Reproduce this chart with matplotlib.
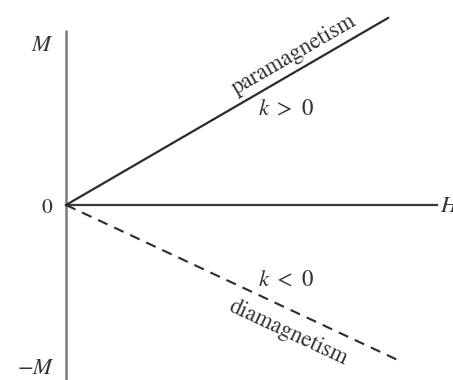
import numpy as np
import matplotlib.pyplot as plt

plt.rcParams['font.family'] = 'STIXGeneral'
plt.rcParams['mathtext.fontset'] = 'stix'

# axis extents (same units on both axes)
H_axis = [0, 3.71]
M_axis = [-1.75, 1.75]

# the two magnetization lines M = k H
H_para = [0, 3.22]
M_para = [0, 1.87]
H_dia = [0, 3.36]
M_dia = [0, -1.57]

fig = plt.figure(figsize=(4.53, 3.8), dpi=100)
ax = fig.add_axes([0, 0, 1, 1])
ax.set_xlim(-0.66, 3.87)
ax.set_ylim(-1.75, 2.05)
ax.axis('off')

axis_col = '#7a7a7a'
line_col = '#2b2b2b'
txt_col = '#333333'
ax.plot([0, 0], M_axis, color=axis_col, lw=1.8, solid_capstyle='butt')
ax.plot(H_axis, [0, 0], color='#3a3a3a', lw=1.6)

ax.plot(H_para, M_para, color=line_col, lw=1.6)
ax.plot(H_dia, M_dia, color=line_col, lw=1.5, ls=(0, (5, 3.5)))

fs = 16.5
ax.text(-0.24, 1.6, '$M$', fontsize=fs, ha='center', va='center', color=txt_col)
ax.text(-0.19, -0.03, '0', fontsize=fs - 1, ha='center', va='center', color=txt_col)
ax.text(-0.3, -1.63, '$-M$', fontsize=fs, ha='center', va='center', color=txt_col)
ax.text(3.74, -0.01, '$H$', fontsize=fs, ha='left', va='center', color=txt_col)

ang_para = np.degrees(np.arctan2(M_para[1], H_para[1]))
ang_dia = np.degrees(np.arctan2(M_dia[1], H_dia[1]))
ax.text(2.28, 1.5, 'paramagnetism', fontsize=fs, rotation=ang_para,
        rotation_mode='anchor', ha='center', va='center', color=txt_col)
ax.text(2.2, 0.95, r'$k\ >\ 0$', fontsize=fs, ha='center', va='center', color=txt_col)
ax.text(2.2, -0.76, r'$k\ <\ 0$', fontsize=fs, ha='center', va='center', color=txt_col)
ax.text(2.22, -1.28, 'diamagnetism', fontsize=fs, rotation=ang_dia,
        rotation_mode='anchor', ha='center', va='center', color=txt_col)

plt.savefig('out.png', dpi=100)
